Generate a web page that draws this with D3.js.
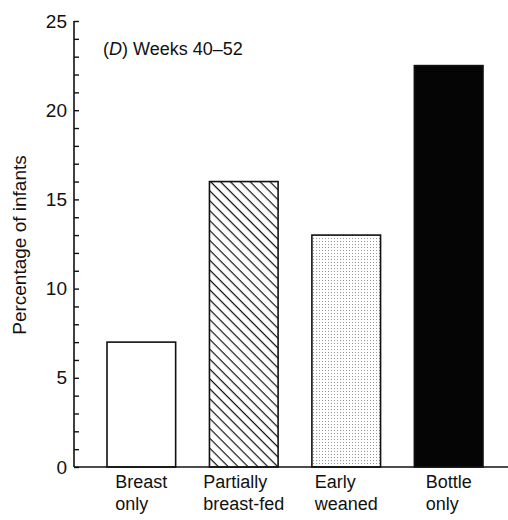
<!DOCTYPE html>
<html>
<head>
<meta charset="utf-8">
<script src="https://cdn.jsdelivr.net/npm/d3@7"></script>
<style>
  html, body { margin: 0; padding: 0; background: #fff; }
  svg { display: block; }
  text { font-family: "Liberation Sans", Arial, Helvetica, sans-serif; fill: #111; }
</style>
</head>
<body>
<svg id="chart" width="508" height="520"></svg>
<script>
const categories = [["Breast", "only"], ["Partially", "breast-fed"], ["Early", "weaned"], ["Bottle", "only"]];
const values = [7, 16, 13, 22.5];
const fills = ["white", "url(#hatch)", "url(#dots)", "#050505"];
const majorTicks = [0, 5, 10, 15, 20, 25];
const minorTicks = d3.range(0, 26, 1);
const title = "Weeks 40–52";
const yTitle = "Percentage of infants";

const svg = d3.select("#chart");
const margin = { left: 74 };
const W = 508;
const y0 = 467;

const y = d3.scaleLinear().domain([0, 25]).range([y0, 21]);
const x = d3.scaleBand().domain(d3.range(categories.length)).range([107, 483]).paddingInner(0.33).paddingOuter(0);

const defs = svg.append("defs");
const hatch = defs.append("pattern").attr("id", "hatch")
  .attr("patternUnits", "userSpaceOnUse").attr("width", 7).attr("height", 7)
  .attr("patternTransform", "rotate(45)");
hatch.append("rect").attr("width", 7).attr("height", 7).attr("fill", "white");
hatch.append("line").attr("x1", 0).attr("y1", 0).attr("x2", 7).attr("y2", 0)
  .attr("stroke", "#111").attr("stroke-width", 2.4);

const dots = defs.append("pattern").attr("id", "dots")
  .attr("patternUnits", "userSpaceOnUse").attr("width", 3).attr("height", 3);
dots.append("rect").attr("width", 3).attr("height", 3).attr("fill", "white");
dots.append("rect").attr("x", 1).attr("y", 1).attr("width", 1).attr("height", 1).attr("fill", "#999");

// bars
svg.append("g").selectAll("rect").data(values).join("rect")
  .attr("x", (d, i) => x(i))
  .attr("y", d => y(d))
  .attr("width", x.bandwidth())
  .attr("height", d => y0 - y(d))
  .attr("fill", (d, i) => fills[i])
  .attr("stroke", "#111")
  .attr("stroke-width", 1.6);

// y axis
const yAxis = d3.axisRight(y).tickValues(minorTicks).tickSize(5).tickFormat("");
const gy = svg.append("g").attr("transform", `translate(${margin.left},0)`).call(yAxis);
gy.select(".domain").attr("stroke", "#111").attr("stroke-width", 1.6).attr("d", `M0,${y(25)}V${y0}`);
gy.selectAll(".tick line").attr("stroke", "#111").attr("stroke-width", 1.4);

const yLabels = d3.axisLeft(y).tickValues(majorTicks).tickSize(0).tickPadding(7);
const gyl = svg.append("g").attr("transform", `translate(${margin.left},0)`).call(yLabels);
gyl.select(".domain").remove();
gyl.selectAll("text").style("font-family", "'Liberation Sans', Arial, sans-serif")
  .style("font-size", "19px").attr("fill", "#111").attr("dy", "0.32em");

// x axis line
svg.append("line").attr("x1", margin.left).attr("x2", W).attr("y1", y0).attr("y2", y0)
  .attr("stroke", "#111").attr("stroke-width", 1.6);

// x labels: block centred under the bar, lines left-aligned
const xl = svg.append("g").selectAll("text").data(categories).join("text")
  .attr("y", 488)
  .style("font-size", "18px");
xl.append("tspan").text(d => d[0]);
xl.append("tspan").attr("dy", 22).text(d => d[1]);
xl.each(function (d, i) {
  const spans = d3.select(this).selectAll("tspan").nodes();
  const w = Math.max(...spans.map(s => s.getComputedTextLength()));
  const left = x(i) + x.bandwidth() / 2 - w / 2;
  spans.forEach(s => s.setAttribute("x", left));
});

// panel title
const t = svg.append("text").attr("x", 103).attr("y", 55).style("font-size", "18px");
t.append("tspan").text("(");
t.append("tspan").style("font-style", "italic").text("D");
t.append("tspan").text(") " + title);

// y title
svg.append("text")
  .attr("transform", `translate(26,245) rotate(-90)`)
  .attr("text-anchor", "middle")
  .style("font-size", "19px")
  .text(yTitle);
</script>
</body>
</html>
